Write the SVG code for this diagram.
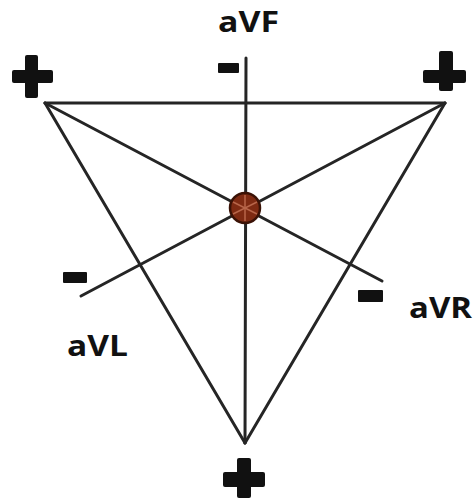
<svg xmlns="http://www.w3.org/2000/svg" width="473" height="501" viewBox="0 0 473 501">
<style>
.ln{stroke:#252525;stroke-width:3;fill:none;stroke-linecap:round}
.sign{fill:#111}
.lbl{font-family:"Open Sans","Liberation Sans",sans-serif;font-weight:bold;font-size:29px;fill:#111}
</style>
<rect width="473" height="501" fill="#fff"/>
<g id="connectors">
<line class="ln" x1="45" y1="103" x2="445" y2="103"/>
<line class="ln" x1="45" y1="103" x2="245" y2="443"/>
<line class="ln" x1="445" y1="103" x2="245" y2="443"/>
<line class="ln" x1="246" y1="58" x2="245" y2="443"/>
<line class="ln" x1="45" y1="103" x2="382" y2="281"/>
<line class="ln" x1="445" y1="103" x2="81" y2="296"/>
</g>
<g id="center">
<circle cx="245" cy="208" r="15" fill="#7e2a12" stroke="#3a1206" stroke-width="2.5"/>
<g stroke="#b8664a" stroke-width="1.5">
<line x1="245" y1="195" x2="245" y2="221"/>
<line x1="233" y1="202" x2="257" y2="214"/>
<line x1="257" y1="202" x2="233" y2="214"/>
</g>
</g>
<g id="aVF">
<text class="lbl" x="218" y="32" textLength="61" lengthAdjust="spacingAndGlyphs">aVF</text>
<rect class="sign" x="218" y="63" width="21" height="10" rx="1"/>
</g>
<g id="aVL">
<text class="lbl" x="67" y="356" textLength="61" lengthAdjust="spacingAndGlyphs">aVL</text>
<rect class="sign" x="63" y="272" width="24" height="11" rx="1"/>
</g>
<g id="aVR">
<text class="lbl" x="409" y="318" textLength="63" lengthAdjust="spacingAndGlyphs">aVR</text>
<rect class="sign" x="358" y="290" width="25" height="12" rx="1"/>
</g>
<g id="plus-top-left">
<rect class="sign" x="12" y="70" width="41" height="13" rx="2"/>
<rect class="sign" x="25" y="55" width="13" height="43" rx="2"/>
</g>
<g id="plus-top-right">
<rect class="sign" x="423" y="70" width="43" height="13" rx="2"/>
<rect class="sign" x="439" y="51" width="14" height="40" rx="2"/>
</g>
<g id="plus-bottom">
<rect class="sign" x="223" y="472" width="42" height="15" rx="2"/>
<rect class="sign" x="237" y="458" width="14" height="40" rx="2"/>
</g>
</svg>
